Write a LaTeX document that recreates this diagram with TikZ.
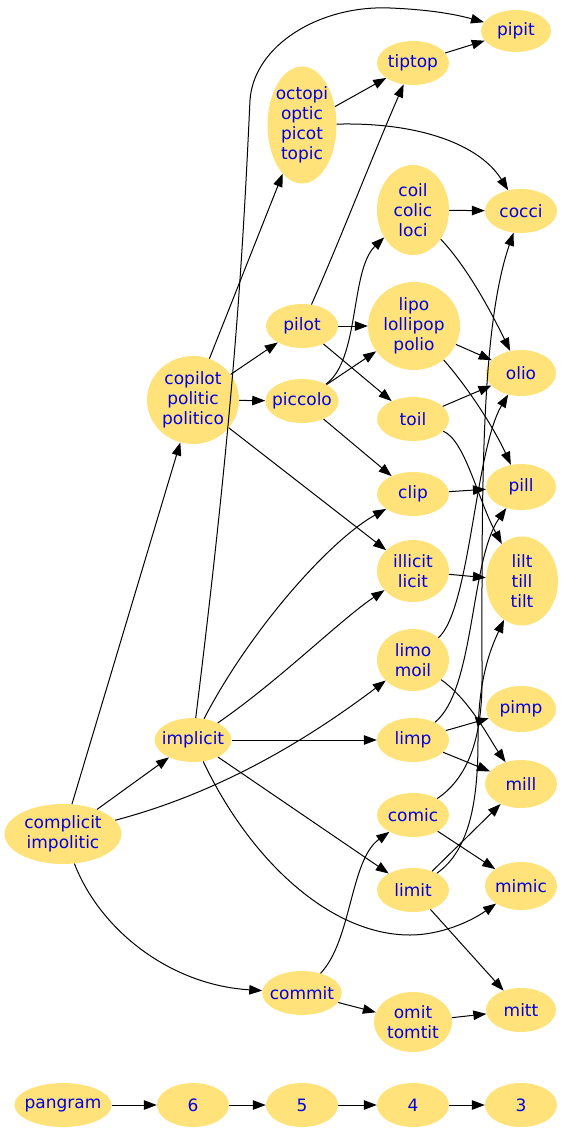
\documentclass[tikz,border=0pt]{standalone}
\usepackage{fontspec}
\setmainfont{DejaVu Sans}
\usetikzlibrary{shapes.geometric,arrows.meta}
\definecolor{nfill}{HTML}{FFE27A}
\definecolor{ntext}{HTML}{0000E0}
\begin{document}
\begin{tikzpicture}[x=1pt,y=-1pt,
  wnode/.style={ellipse, fill=nfill, draw=none, text=ntext, inner xsep=-4pt, inner ysep=0pt, align=center,
    font=\fontsize{17}{20}\selectfont, minimum width=72pt, minimum height=44pt},
  edge/.style={draw=black, line width=1pt, -{Triangle[length=13pt,width=9.5pt]}},
]
\useasboundingbox (0,0) rectangle (566,1135);
% nodes
\node[wnode, minimum width=70pt, minimum height=42pt] (pipit) at (516,31) {pipit};
\node[wnode] (tiptop) at (413,63) {tiptop};
\node[wnode, minimum width=69pt, minimum height=117pt] (octopi) at (302,125) {octopi\\optic\\picot\\topic};
\node[wnode] (cocci) at (521,211) {cocci};
\node[wnode, minimum height=90pt] (coil) at (413,210) {coil\\colic\\loci};
\node[wnode, minimum width=92pt, minimum height=88pt] (lipo) at (414,326) {lipo\\lollipop\\polio};
\node[wnode] (pilot) at (302,326) {pilot};
\node[wnode, minimum width=70pt, minimum height=46pt] (olio) at (521,373) {olio};
\node[wnode, minimum width=92pt, minimum height=88pt] (copilot) at (193,400) {copilot\\politic\\politico};
\node[wnode] (piccolo) at (302,401) {piccolo};
\node[wnode] (toil) at (413,419) {toil};
\node[wnode, minimum width=70pt, minimum height=46pt] (pill) at (521,487) {pill};
\node[wnode] (clip) at (413,494) {clip};
\node[wnode, minimum height=62pt] (illicit) at (413,571) {illicit\\licit};
\node[wnode, minimum height=89pt] (lilt) at (522,581) {lilt\\till\\tilt};
\node[wnode, minimum height=62pt] (limo) at (413,660) {limo\\moil};
\node[wnode, minimum width=70pt, minimum height=46pt] (pimp) at (521,709) {pimp};
\node[wnode] (implicit) at (193,740) {implicit};
\node[wnode] (limp) at (413,740) {limp};
\node[wnode, minimum height=48pt] (mill) at (521,784) {mill};
\node[wnode] (comic) at (413,815) {comic};
\node[wnode, minimum width=117pt, minimum height=60pt] (complicit) at (63,834) {complicit\\impolitic};
\node[wnode] (limit) at (413,890) {limit};
\node[wnode, minimum height=48pt] (mimic) at (521,886) {mimic};
\node[wnode] (commit) at (302,993) {commit};
\node[wnode, minimum width=78pt, minimum height=60pt] (omit) at (413,1022) {omit\\tomtit};
\node[wnode, minimum width=70pt] (mitt) at (521,1010) {mitt};
\node[wnode, minimum width=90pt] (pangram) at (63,1105) {pangram};
\node[wnode] (r6) at (193,1105) {6};
\node[wnode] (r5) at (302,1105) {5};
\node[wnode] (r4) at (413,1105) {4};
\node[wnode] (r3) at (521,1105) {3};
% edges
\draw[edge] (complicit) -- (copilot);
\draw[edge] (complicit) -- (implicit);
\draw[edge] (complicit) .. controls (230,790) and (320,730) .. (limo);
\draw[edge] (complicit) .. controls (100,930) and (170,985) .. (commit);
\draw[edge] (copilot) -- (octopi);
\draw[edge] (copilot) -- (pilot);
\draw[edge] (copilot) -- (piccolo);
\draw[edge] (copilot) -- (illicit);
\draw[edge] (implicit) .. controls (235,400) and (243,250) .. (250,100)
  .. controls (254,45) and (320,5) .. (390,8) .. controls (440,10) and (465,17) .. (pipit);
\draw[edge] (implicit) .. controls (250,630) and (330,540) .. (clip);
\draw[edge] (implicit) .. controls (280,680) and (340,620) .. (illicit);
\draw[edge] (implicit) -- (limp);
\draw[edge] (implicit) -- (limit);
\draw[edge] (implicit) .. controls (250,860) and (330,935) .. (410,935)
  .. controls (440,935) and (470,922) .. (mimic);
\draw[edge] (octopi) -- (tiptop);
\draw[edge] (octopi) .. controls (420,122) and (480,145) .. (cocci);
\draw[edge] (pilot) .. controls (340,240) and (375,150) .. (tiptop);
\draw[edge] (pilot) -- (lipo);
\draw[edge] (pilot) -- (toil);
\draw[edge] (piccolo) .. controls (360,360) and (350,270) .. (coil);
\draw[edge] (piccolo) -- (lipo);
\draw[edge] (piccolo) -- (clip);
\draw[edge] (commit) .. controls (352,940) and (350,860) .. (comic);
\draw[edge] (commit) -- (omit);
\draw[edge] (tiptop) -- (pipit);
\draw[edge] (coil) -- (cocci);
\draw[edge] (coil) .. controls (470,270) and (495,320) .. (olio);
\draw[edge] (lipo) -- (olio);
\draw[edge] (lipo) .. controls (470,390) and (495,430) .. (pill);
\draw[edge] (toil) -- (olio);
\draw[edge] (toil) .. controls (465,440) and (478,500) .. (lilt);
\draw[edge] (clip) -- (pill);
\draw[edge] (illicit) -- (lilt);
\draw[edge] (limo) .. controls (470,610) and (475,450) .. (olio);
\draw[edge] (limo) .. controls (470,700) and (490,740) .. (mill);
\draw[edge] (limp) .. controls (475,690) and (470,560) .. (pill);
\draw[edge] (limp) -- (pimp);
\draw[edge] (limp) -- (mill);
\draw[edge] (comic) .. controls (472,775) and (482,730) .. (482,680)
  .. controls (482,500) and (480,330) .. (cocci);
\draw[edge] (comic) -- (mimic);
\draw[edge] (limit) .. controls (470,850) and (478,800) .. (478,740)
  .. controls (478,680) and (490,650) .. (lilt);
\draw[edge] (limit) -- (mill);
\draw[edge] (limit) -- (mitt);
\draw[edge] (omit) -- (mitt);
\draw[edge] (pangram) -- (r6);
\draw[edge] (r6) -- (r5);
\draw[edge] (r5) -- (r4);
\draw[edge] (r4) -- (r3);
\end{tikzpicture}
\end{document}
